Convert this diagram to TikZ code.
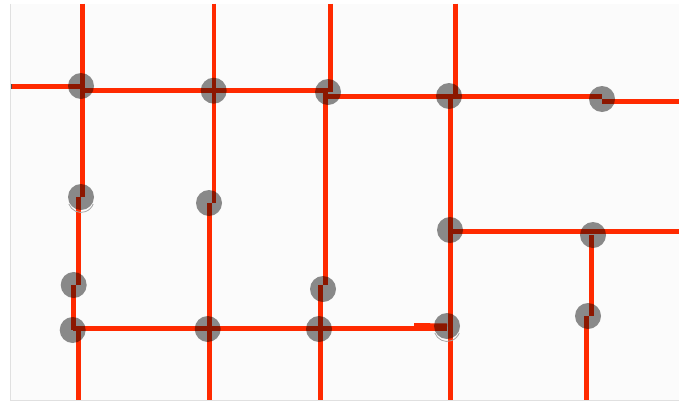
\documentclass[tikz,border=0pt]{standalone}
\usetikzlibrary{backgrounds}
\definecolor{wirered}{HTML}{FF2A00}
\definecolor{panel}{HTML}{FBFBFB}
\tikzset{
  dot/.style={circle,fill=black,fill opacity=0.45,inner sep=0pt,minimum size=26pt},
  wire/.style={draw=wirered,line width=5pt},
  thinwire/.style={draw=wirered,line width=4pt},
  ghost/.style={draw=black!35,line width=0.8pt},
}

\begin{document}
\begin{tikzpicture}[x=1pt,y=-1pt]
  \useasboundingbox (0,0) rectangle (679,402);
  % free ends on the picture border
  \foreach \n/\x/\y in {top1/82/3.5,top2/213.7/3.5,top3/330/3.5,top4/455.7/3.5,
      bot1/78/400,bot2/209/400,bot3/320/400,bot4/450.3/400,bot5/586/400,
      left1/10.5/86,right1/679/101,right2/679/231.7} {
      \coordinate (\n) at (\x,\y);
  }
  % dots
  \foreach \n/\x/\y in {a1/81/86,a2/213.7/90.7,a3/328/92,a4/449/96,a5/602/99,
      b1/81/197,b2/209/203,c1/450/230,c2/593/235,
      d1/73.7/285,d2/323/289,d3/588/316,
      e1/72.7/330,e2/207.7/329,e3/319/329,e4/447/326} {
      \node[dot] (\n) at (\x,\y) {};
  }
  \begin{scope}[on background layer]
    \fill[panel] (10.5,3.5) rectangle (679,400);
    \draw[black!12] (10.5,3.5) -- (10.5,400) -- (679,400);
    % top row
    \draw[wire] (left1) -- (left1 -| a1);
    \fill[black!70] (10.5,83.5) rectangle (12,88.5);
    \draw[wire] (a1.center |- a2) -- (a3.center |- a2);
    \draw[wire] (a3.center |- a4) -- (a5.center |- a4);
    \draw[wire] (a5.center |- right1) -- (right1);
    % first column
    \draw[wire] (top1) -- (top1 |- b1);
    \draw[wire] (bot1 |- b1) -- (bot1 |- d1);
    \draw[wire] (d1.center) -- (d1.center |- e1);
    \draw[wire] (bot1 |- e1) -- (bot1);
    % second column
    \draw[thinwire] (top2) -- (top2 |- b2);
    \draw[wire] (bot2 |- b2) -- (bot2);
    % third column
    \draw[wire] (top3) -- (top3 |- a3);
    \draw[wire] (325,92) -- (325,285);
    \draw[wire] (bot3 |- d1) -- (bot3);
    % fourth column
    \draw[wire] (top4) -- (top4 |- a4);
    \draw[wire] (bot4 |- a4) -- (bot4);
    % branch to the right
    \draw[wire] (c1.center |- right2) -- (right2);
    \draw[wire] (591,235) -- (591,316);
    \draw[wire] (bot5 |- d3) -- (bot5);
    % bottom row
    \draw[wire] (e1.center |- 0,328.3) -- (e4.center |- 0,328.3);
    \draw[wire] (414,325.5) -- (e4.center);
    % faint rings under two of the dots
    \draw[ghost] ([shift={(-12.2,6.9)}]b1.center) arc[start angle=200,end angle=340,radius=13pt];
    \draw[ghost] ([shift={(-12.2,6.9)}]e4.center) arc[start angle=200,end angle=340,radius=13pt];
  \end{scope}
\end{tikzpicture}
\end{document}
